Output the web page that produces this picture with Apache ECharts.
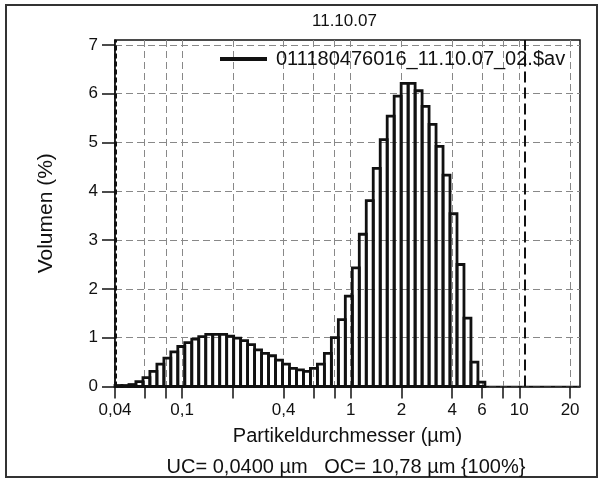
<!DOCTYPE html>
<html><head><meta charset="utf-8">
<script src="https://cdn.jsdelivr.net/npm/echarts@6/dist/echarts.min.js"></script>
<style>html,body{margin:0;padding:0;background:#fff}#c{width:601px;height:481px}</style>
</head><body><div id="c"></div>
<script>
// size-class lower/upper edges (µm)
const binEdges = [0.04, 0.044, 0.0484, 0.0532, 0.0586, 0.0644, 0.0709, 0.078, 0.0857, 0.0943,
  0.1037, 0.1141, 0.1255, 0.1381, 0.1519, 0.1671, 0.1838, 0.2022, 0.2224, 0.2446,
  0.2691, 0.296, 0.3256, 0.3582, 0.394, 0.4334, 0.4767, 0.5244, 0.5768, 0.6345,
  0.698, 0.7678, 0.8446, 0.929, 1.0219, 1.1241, 1.2365, 1.3602, 1.4962, 1.6458,
  1.8104, 1.9914, 2.1906, 2.4096, 2.6506, 2.9156, 3.2072, 3.5279, 3.8807, 4.2688,
  4.6957, 5.1652, 5.6818, 6.2499];
// volume % per size class
const volumePct = [0.02, 0.02, 0.04, 0.10, 0.18, 0.31, 0.46, 0.58, 0.71, 0.82,
  0.90, 0.97, 1.02, 1.07, 1.07, 1.07, 1.03, 0.99, 0.94, 0.86,
  0.75, 0.68, 0.63, 0.54, 0.46, 0.37, 0.34, 0.31, 0.37, 0.46,
  0.68, 1.00, 1.37, 1.85, 2.43, 3.12, 3.81, 4.47, 5.06, 5.54,
  5.95, 6.21, 6.21, 6.06, 5.74, 5.37, 4.92, 4.33, 3.54, 2.50,
  1.40, 0.50, 0.09];
const xTickValues = [0.04, 0.06, 0.08, 0.1, 0.2, 0.4, 0.6, 0.8, 1, 2, 4, 6, 8, 10, 20];
const xLabelValues = [0.04, 0.1, 0.4, 1, 2, 4, 6, 10, 20];
const yTickValues = [0, 1, 2, 3, 4, 5, 6, 7];
const cutoffs = [0.04, 10.78]; // UC, OC
const seriesName = '011180476016_11.10.07_02.$av';
const titleText = '11.10.07';
const footerText = 'UC= 0,0400 µm   OC= 10,78 µm {100%}';

const FONT = 'Liberation Sans';
const data = volumePct.map((v, i) => [binEdges[i], binEdges[i + 1], v]);

const chart = echarts.init(document.getElementById('c'), null, {renderer: 'canvas'});
chart.setOption({
  animation: false,
  backgroundColor: '#fff',
  textStyle: {fontFamily: FONT},
  title: {text: titleText, left: 307, top: 8, textStyle: {fontFamily: FONT, fontSize: 17, fontWeight: 'normal', color: '#111'}},
  legend: {
    left: 215, top: 44, itemWidth: 47, itemHeight: 4, icon: 'rect',
    itemStyle: {color: '#111'},
    textStyle: {fontFamily: FONT, fontSize: 20, color: '#111', padding: [0, 0, 0, 4]},
    data: [seriesName]
  },
  grid: {left: 115, right: 21, top: 40, bottom: 94.5, show: true, borderColor: '#111', borderWidth: 1.5},
  xAxis: {
    type: 'log', min: 0.04, max: 22.9,
    name: 'Partikeldurchmesser (µm)', nameLocation: 'middle', nameGap: 40,
    nameTextStyle: {fontFamily: FONT, fontSize: 20, color: '#111'},
    axisLine: {lineStyle: {color: '#111', width: 1.5}},
    axisTick: {show: true, customValues: xTickValues, length: 12, lineStyle: {color: '#111', width: 1.5}},
    axisLabel: {customValues: xLabelValues, margin: 15, fontSize: 17, color: '#111', fontFamily: FONT,
      formatter: v => String(+v.toPrecision(3)).replace('.', ',')},
    splitLine: {show: true, lineStyle: {color: '#888', type: [7, 4], width: 1}},
    minorTick: {show: false}, minorSplitLine: {show: false}
  },
  yAxis: {
    type: 'value', min: 0, max: 7.1, interval: 1,
    name: 'Volumen (%)', nameLocation: 'middle', nameGap: 58,
    nameTextStyle: {fontFamily: FONT, fontSize: 21, color: '#111'},
    axisLine: {show: true, lineStyle: {color: '#111', width: 1.5}},
    axisTick: {show: true, customValues: yTickValues, length: 13, lineStyle: {color: '#111', width: 1.5}},
    axisLabel: {customValues: yTickValues, margin: 17, fontSize: 17, color: '#111', fontFamily: FONT},
    splitLine: {show: true, lineStyle: {color: '#888', type: [7, 4], width: 1}}
  },
  graphic: [
    {type: 'rect', shape: {x: 6, y: 5, width: 591, height: 472}, style: {fill: 'none', stroke: '#333', lineWidth: 2}, silent: true},
    {type: 'text', x: 346, y: 467, style: {text: footerText, font: '20px "Liberation Sans"', fill: '#111', textAlign: 'center', textVerticalAlign: 'middle'}}
  ],
  series: [{
    type: 'custom', name: seriesName,
    itemStyle: {color: '#111'},
    encode: {x: [0, 1], y: 2},
    data: data,
    renderItem: function (params, api) {
      const lo = api.value(0), hi = api.value(1), v = api.value(2);
      const p0 = api.coord([lo, v]);
      const p1 = api.coord([hi, 0]);
      return {type: 'rect', shape: {x: p0[0], y: p0[1], width: p1[0] - p0[0], height: p1[1] - p0[1]},
        style: {fill: 'none', stroke: '#111', lineWidth: 2.8}};
    },
    markLine: {
      silent: true, symbol: 'none', label: {show: false},
      data: [
        {xAxis: cutoffs[0], lineStyle: {color: '#111', type: [5, 3], width: 3}},
        {xAxis: cutoffs[1], lineStyle: {color: '#111', type: [11, 5], width: 2}}
      ]
    }
  }]
});
</script></body></html>
